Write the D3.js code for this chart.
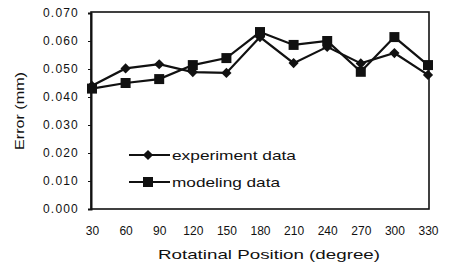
<!DOCTYPE html>
<html>
<head>
<meta charset="utf-8">
<script src="https://cdn.jsdelivr.net/npm/d3@7"></script>
<style>
  body { margin: 0; background: #fff; }
  text { font-family: "Liberation Sans", Arial, sans-serif; fill: #111; }
</style>
</head>
<body>
<script>
const positions = ["30","60","90","120","150","180","210","240","270","300","330"];
const experiment = [0.0440, 0.0502, 0.0517, 0.0489, 0.0486, 0.0614, 0.0521, 0.0579, 0.0520, 0.0557, 0.0479];
const modeling   = [0.0430, 0.0450, 0.0464, 0.0514, 0.0539, 0.0632, 0.0586, 0.0600, 0.0490, 0.0614, 0.0514];
const yTicks = [0, 0.01, 0.02, 0.03, 0.04, 0.05, 0.06, 0.07];
const seriesNames = ["experiment data", "modeling data"];

function main(){
    const W = 450, H = 265;
    const svg = d3.select("body").append("svg")
        .attr("width", W)
        .attr("height", H);

    const left = 92, right = 428, top = 13, bottom = 209;

    const x = d3.scalePoint().domain(positions).range([left, right]);
    const y = d3.scaleLinear().domain([0, 0.07]).range([bottom, top]);

    // frame
    svg.append("rect")
        .attr("x", left - 1).attr("y", top - 1)
        .attr("width", right - left + 2).attr("height", bottom - top + 1)
        .attr("fill", "none").attr("stroke", "#111").attr("stroke-width", 1.6);

    // y axis
    const yAxis = svg.append("g")
        .attr("transform", `translate(${left - 1},0)`)
        .call(d3.axisLeft(y).tickValues(yTicks).tickFormat(d3.format(".3f")).tickSize(3).tickPadding(9));
    yAxis.select(".domain").attr("stroke", "#111").attr("stroke-width", 2);
    yAxis.selectAll(".tick line").attr("stroke", "#111");
    yAxis.selectAll("text").attr("font-size", 12).attr("letter-spacing", 1.2).attr("fill", "#111")
        .style("font-family", "Liberation Sans, Arial, sans-serif");

    // x axis labels
    const xAxis = svg.append("g")
        .attr("transform", `translate(0,${bottom})`)
        .call(d3.axisBottom(x).tickSize(0).tickPadding(17));
    xAxis.select(".domain").remove();
    xAxis.selectAll("text").attr("font-size", 12).attr("fill", "#111")
        .style("font-family", "Liberation Sans, Arial, sans-serif");

    // titles
    svg.append("text")
        .attr("x", 269).attr("y", 259)
        .attr("text-anchor", "middle")
        .attr("font-size", 13)
        .attr("textLength", 222).attr("lengthAdjust", "spacingAndGlyphs")
        .text("Rotatinal Position (degree)");

    svg.append("text")
        .attr("transform", "translate(24,111) rotate(-90)")
        .attr("text-anchor", "middle")
        .attr("font-size", 12.5)
        .attr("textLength", 78).attr("lengthAdjust", "spacingAndGlyphs")
        .text("Error (mm)");

    const diamond = d3.symbol().type(d3.symbolSquare).size(52);
    const square = d3.symbol().type(d3.symbolSquare).size(100);

    const line = d3.line()
        .x((d, i) => x(positions[i]))
        .y(d => y(d));

    const series = [
        {name: seriesNames[0], values: experiment, sym: diamond, rot: 45},
        {name: seriesNames[1], values: modeling, sym: square, rot: 0}
    ];

    series.forEach(s => {
        svg.append("path")
            .datum(s.values)
            .attr("d", line)
            .attr("fill", "none")
            .attr("stroke", "#111")
            .attr("stroke-width", 2.2);
        svg.selectAll(null)
            .data(s.values)
            .enter()
            .append("path")
            .attr("d", s.sym)
            .attr("transform", (d, i) => `translate(${x(positions[i])},${y(d)}) rotate(${s.rot})`)
            .attr("fill", "#111");
    });

    // legend
    const legend = svg.append("g");
    series.forEach((s, i) => {
        const ly = 155 + i * 27;
        legend.append("line")
            .attr("x1", 129).attr("x2", 170)
            .attr("y1", ly).attr("y2", ly)
            .attr("stroke", "#111").attr("stroke-width", 2.2);
        legend.append("path")
            .attr("d", s.sym)
            .attr("transform", `translate(148,${ly}) rotate(${s.rot})`)
            .attr("fill", "#111");
        legend.append("text")
            .attr("x", 172).attr("y", ly + 4.5)
            .attr("font-size", 13)
            .attr("textLength", i === 0 ? 124 : 108).attr("lengthAdjust", "spacingAndGlyphs")
            .text(s.name);
    });
}
main();
</script>
</body>
</html>
